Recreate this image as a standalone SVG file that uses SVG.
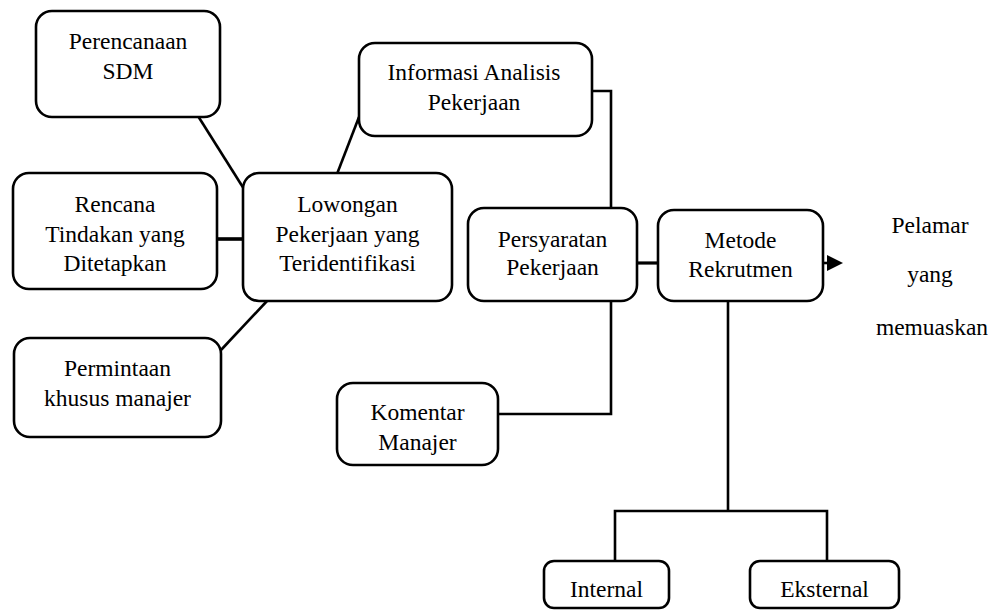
<svg xmlns="http://www.w3.org/2000/svg" width="996" height="610" viewBox="0 0 996 610">
<style>
.box{fill:#fff;stroke:#000;stroke-width:2.6}
.t{font-family:"Liberation Serif","Times New Roman",serif;font-size:23.5px;fill:#000;text-anchor:middle}
.c{fill:none;stroke:#000;stroke-width:2.6}
</style>
<rect width="996" height="610" fill="#fff"/>
<g id="connectors">
<line class="c" x1="198" y1="116" x2="244" y2="189"/>
<line class="c" x1="337" y1="174" x2="359" y2="117"/>
<line class="c" x1="217" y1="239" x2="243" y2="239" style="stroke-width:3.6"/>
<line class="c" x1="267" y1="301" x2="221" y2="350"/>
<polyline class="c" points="592,91 611,91 611,208"/>
<polyline class="c" points="611,301 611,414 498,414"/>
<line class="c" x1="637" y1="263" x2="658" y2="263" style="stroke-width:3.2"/>
<line class="c" x1="823" y1="263" x2="829" y2="263"/>
<polygon points="827,255 843,263 827,271" fill="#000"/>
<polyline class="c" points="728,301 728,511"/>
<polyline class="c" points="615,561 615,511 827,511 827,561"/>
</g>
<g id="perencanaan">
<rect class="box" x="36" y="11" width="184" height="106" rx="16"/>
<text class="t" x="128" y="49">Perencanaan</text>
<text class="t" x="128" y="79">SDM</text>
</g>
<g id="informasi">
<rect class="box" x="359" y="43" width="233" height="93" rx="16"/>
<text class="t" x="474" y="80">Informasi Analisis</text>
<text class="t" x="474" y="110">Pekerjaan</text>
</g>
<g id="rencana">
<rect class="box" x="13" y="173" width="204" height="116" rx="16"/>
<text class="t" x="115" y="212">Rencana</text>
<text class="t" x="115" y="242">Tindakan yang</text>
<text class="t" x="115" y="271">Ditetapkan</text>
</g>
<g id="lowongan">
<rect class="box" x="243" y="173" width="209" height="128" rx="16"/>
<text class="t" x="347.5" y="212">Lowongan</text>
<text class="t" x="347.5" y="242">Pekerjaan yang</text>
<text class="t" x="347.5" y="271">Teridentifikasi</text>
</g>
<g id="permintaan">
<rect class="box" x="14" y="338" width="207" height="99" rx="16"/>
<text class="t" x="117.5" y="376">Permintaan</text>
<text class="t" x="117.5" y="406">khusus manajer</text>
</g>
<g id="komentar">
<rect class="box" x="337" y="383" width="161" height="82" rx="16"/>
<text class="t" x="417.5" y="420">Komentar</text>
<text class="t" x="417.5" y="450">Manajer</text>
</g>
<g id="persyaratan">
<rect class="box" x="468" y="208" width="169" height="93" rx="16"/>
<text class="t" x="552.5" y="247">Persyaratan</text>
<text class="t" x="552.5" y="275">Pekerjaan</text>
</g>
<g id="metode">
<rect class="box" x="658" y="210" width="165" height="91" rx="16"/>
<text class="t" x="740.5" y="248">Metode</text>
<text class="t" x="740.5" y="277">Rekrutmen</text>
</g>
<g id="pelamar">
<text class="t" x="930" y="233">Pelamar</text>
<text class="t" x="930" y="282">yang</text>
<text class="t" x="932" y="335">memuaskan</text>
</g>
<g id="internal">
<rect class="box" x="544" y="561" width="125" height="47" rx="10"/>
<text class="t" x="606.5" y="597">Internal</text>
</g>
<g id="eksternal">
<rect class="box" x="750" y="561" width="149" height="47" rx="10"/>
<text class="t" x="824.5" y="597">Eksternal</text>
</g>
</svg>
